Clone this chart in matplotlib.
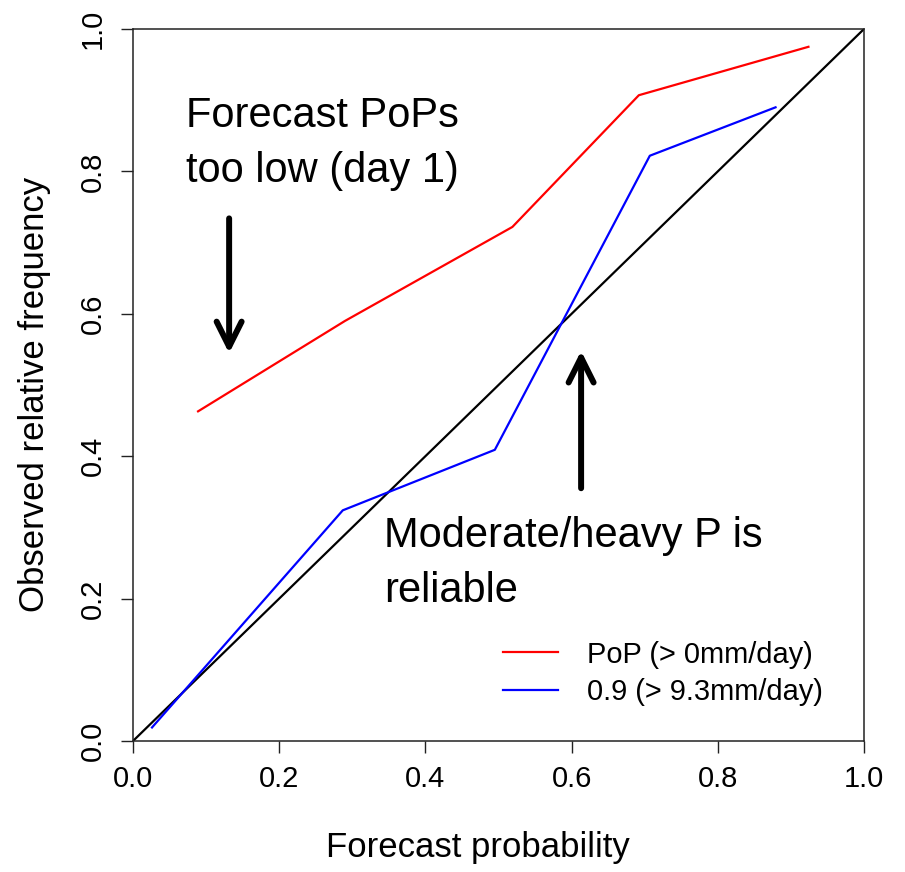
import matplotlib
matplotlib.use("Agg")
import matplotlib.pyplot as plt

# Reliability curves: forecast probability vs observed relative frequency
pop_x = [0.089, 0.290, 0.519, 0.692, 0.924]
pop_y = [0.463, 0.590, 0.722, 0.907, 0.975]
heavy_x = [0.026, 0.287, 0.495, 0.707, 0.879]
heavy_y = [0.019, 0.324, 0.409, 0.822, 0.890]
series_labels = ["PoP (> 0mm/day)", "0.9 (> 9.3mm/day)"]
ticks = [0.0, 0.2, 0.4, 0.6, 0.8, 1.0]
tick_labels = ["0.0", "0.2", "0.4", "0.6", "0.8", "1.0"]

plt.rcParams["font.family"] = ["Liberation Sans", "DejaVu Sans"]

W, H = 905, 872
fig = plt.figure(figsize=(W / 100, H / 100), dpi=100)
ax = fig.add_axes([133 / W, 1 - 741 / H, (864 - 133) / W, (741 - 29) / H])

ax.plot([0, 1], [0, 1], color="black", lw=1.6)
ax.plot(pop_x, pop_y, color="#ff0000", lw=1.6, label=series_labels[0])
ax.plot(heavy_x, heavy_y, color="#0000ff", lw=1.6, label=series_labels[1])

ax.set_xlim(0, 1)
ax.set_ylim(0, 1)
ax.set_xticks(ticks)
ax.set_xticklabels(tick_labels)
ax.set_yticks(ticks)
ax.set_yticklabels(tick_labels, rotation=90, va="center")
ax.tick_params(direction="out", length=8.6, width=1, labelsize=21, color="#222222")
ax.tick_params(axis="x", pad=8.6)
ax.tick_params(axis="y", pad=10)
for sp in ax.spines.values():
    sp.set_color("#222222")
    sp.set_linewidth(1.1)

fig.text(478 / W, 1 - 857 / H, "Forecast probability", fontsize=25,
         ha="center", va="baseline")
fig.text(35 / W, 1 - 394 / H, "Observed relative frequency", fontsize=25,
         rotation=90, ha="center", va="center")

ax.text(0.0725, 0.785, "Forecast PoPs\ntoo low (day 1)", fontsize=30,
        ha="left", va="baseline", linespacing=1.5)
ax.text(0.3434, 0.195, "Moderate/heavy P is\nreliable", fontsize=30,
        ha="left", va="baseline", linespacing=1.5)

arrow_style = dict(arrowstyle="->,head_length=0.9,head_width=0.45",
                   lw=4.3, color="black", mutation_scale=20,
                   shrinkA=0, shrinkB=0)
ax.annotate("", xy=(0.1315, 0.5445), xytext=(0.1315, 0.734), arrowprops=arrow_style)
ax.annotate("", xy=(0.613, 0.548), xytext=(0.613, 0.355), arrowprops=arrow_style)

ax.legend(loc="upper left", bbox_to_anchor=(0.506, 0.141), frameon=False,
          fontsize=20.9, handlelength=1.9, handletextpad=1.0,
          labelspacing=0.33, borderpad=0, borderaxespad=0)

fig.savefig("out.png", dpi=100)
